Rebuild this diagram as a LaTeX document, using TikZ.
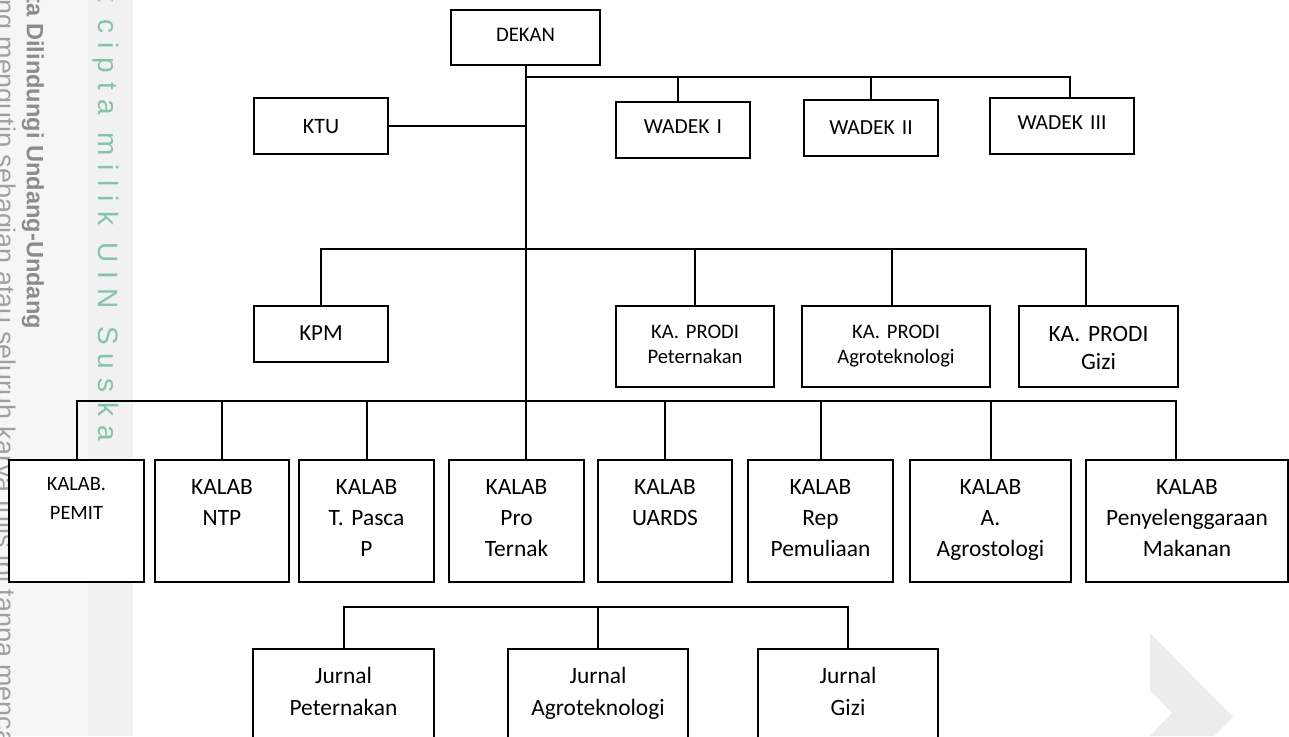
\documentclass[tikz,border=0pt]{standalone}
\usepackage{fontspec}
\setmainfont{Carlito}
\newfontfamily\wmfont{Liberation Sans}
\newfontfamily\wmspaced[LetterSpace=33]{Liberation Sans}
\usetikzlibrary{calc}

\definecolor{wmband}{RGB}{246,246,246}
\definecolor{wmbandb}{RGB}{241,241,241}
\definecolor{wmgreen}{RGB}{132,196,164}
\definecolor{wmgray}{RGB}{140,140,140}
\definecolor{wmlight}{RGB}{160,160,160}
\definecolor{wmarrow}{RGB}{236,236,236}

\newcommand{\unitfont}{\fontsize{21.5}{26}\selectfont}
\newcommand{\prodifont}{\fontsize{20.6}{25}\selectfont}
\newcommand{\kalabfont}{\fontsize{23.4}{31}\selectfont}

\tikzset{every picture/.style={line width=2pt}}
\tikzset{
  orgbox/.style={draw, fill=white, inner sep=0pt, align=center, anchor=north west},
  kalab/.style={orgbox, text height=34.5pt, text depth=87.5pt, font=\kalabfont},
  jurnal/.style={orgbox, text height=34.5pt, text depth=100pt, font=\fontsize{23.4}{32}\selectfont},
  prodi/.style={orgbox, text height=32pt, text depth=49pt, font=\prodifont},
  wmtext/.style={rotate=-90, anchor=base west, inner sep=0pt},
  link/.style={line width=2pt}
}

\begin{document}
\begin{tikzpicture}[x=1pt,y=1pt,yscale=-1,xscale=1]
	\useasboundingbox (0,0) rectangle (1289,736);
	\clip (0,0) rectangle (1289,736);

	%Shape: Watermark band
	\fill[wmband] (0,0) rectangle (88,736);
	\fill[wmbandb] (88,0) rectangle (133,736);
	% Text Node
	\node[wmtext, text=wmlight, font=\wmfont\fontsize{26.9}{30}\selectfont] (wmlaw) at (-4,-72) {Dilarang mengutip sebagian atau seluruh karya tulis ini tanpa mencantumkan dan menyebutkan sumber};
	% Text Node
	\node[wmtext, text=wmgray, font=\wmfont\bfseries\fontsize{23.6}{27}\selectfont] (wmcopy) at (27,-93) {Hak Cipta Dilindungi Undang-Undang};
	% Text Node
	\node[wmtext, text=wmgreen, font=\wmspaced\fontsize{28}{32}\selectfont] (wmuin) at (98,-67) {Hak cipta milik UIN Suska Riau};
	%Shape: Chevron
	\fill[wmarrow] (1150,633) -- (1233,717) -- (1214,736) -- (1150,736) -- (1172,713) -- (1150,690) -- cycle;

	% Text Node
	\node[orgbox, text width=149pt, text height=31pt, text depth=24pt, font=\fontsize{20.7}{25}\selectfont] (dekan) at (450,9) {DEKAN};
	% Text Node
	\node[orgbox, text width=134pt, text height=35pt, text depth=21pt, font=\fontsize{22}{26}\selectfont] (ktu) at (253,97) {KTU};
	% Text Node
	\node[orgbox, text width=134pt, text height=31pt, text depth=25pt, font=\unitfont] (w1) at (615,101) {WADEK I};
	% Text Node
	\node[orgbox, text width=134pt, text height=34pt, text depth=22pt, font=\unitfont] (w2) at (803,99) {WADEK II};
	% Text Node
	\node[orgbox, text width=144pt, text height=31pt, text depth=25pt, font=\unitfont] (w3) at (989,97) {WADEK III};

	% Text Node
	\node[orgbox, text width=134pt, text height=34pt, text depth=22pt, font=\fontsize{23}{27}\selectfont] (kpm) at (253,305) {KPM};
	% Text Node
	\node[prodi, text width=158pt] (kpp) at (615,305) {KA. PRODI\\Peternakan};
	% Text Node
	\node[prodi, text width=188pt] (kpa) at (801,305) {KA. PRODI\\Agroteknologi};
	% Text Node
	\node[prodi, text width=159pt, text height=35pt, text depth=46pt, font=\fontsize{23.4}{28}\selectfont] (kpg) at (1018,305) {KA. PRODI\\Gizi};

	% Text Node
	\node[kalab, text width=135pt, text height=30pt, text depth=92pt, font=\fontsize{20.4}{29}\selectfont] (pemit) at (8,459) {KALAB.\\PEMIT};
	\node[kalab, text width=134pt] (ntp) at (154,459) {KALAB\\NTP};
	\node[kalab, text width=135pt] (tpasca) at (298,459) {KALAB\\T. Pasca\\P};
	\node[kalab, text width=135pt] (prot) at (448,459) {KALAB\\Pro\\Ternak};
	\node[kalab, text width=134pt] (uards) at (597,459) {KALAB\\UARDS};
	\node[kalab, text width=145pt] (rep) at (747,459) {KALAB\\Rep\\Pemuliaan};
	\node[kalab, text width=161pt] (agro) at (909,459) {KALAB\\A.\\Agrostologi};
	\node[kalab, text width=202pt] (penyel) at (1085,459) {KALAB\\Penyelenggaraan\\Makanan};

	% Text Node
	\node[jurnal, text width=181pt] (jp) at (252,648) {Jurnal\\Peternakan};
	\node[jurnal, text width=180pt] (ja) at (507,648) {Jurnal\\Agroteknologi};
	\node[jurnal, text width=180pt] (jg) at (757,648) {Jurnal\\Gizi};

	\coordinate (wbus) at (524.5,77);
	\coordinate (pbus) at (524.5,249);
	\coordinate (kbus) at (524.5,401);
	\coordinate (jbus) at (597,607);
	\coordinate (w1top) at ($(w1.north)+(-5,0)$);
	\coordinate (w3top) at ($(w3.north)+(8,0)$);
	\coordinate (kpatop) at ($(kpa.north)+(-4,0)$);
	\coordinate (kpgtop) at ($(kpg.north)+(-13,0)$);
	\coordinate (penyeltop) at ($(penyel.north)+(-11,0)$);

	%Straight Lines
	\draw[link] (dekan.south) -- (dekan.south |- prot.north);
	\draw[link] (ktu.east) -- (ktu.east -| dekan.south);
	\draw[link] (wbus) -| (w3top);
	\draw[link] (w1top |- wbus) -- (w1top);
	\draw[link] (w2.north |- wbus) -- (w2.north);
	%Straight Lines
	\draw[link] (kpm.north) |- (kpgtop |- pbus) -- (kpgtop);
	\draw[link] (kpp.north |- pbus) -- (kpp.north);
	\draw[link] (kpatop |- pbus) -- (kpatop);
	%Straight Lines
	\draw[link] (pemit.north) |- (penyeltop |- kbus) -- (penyeltop);
	\foreach \n in {ntp,tpasca,uards,rep,agro}
		\draw[link] (\n.north |- kbus) -- (\n.north);
	%Straight Lines
	\draw[link] (jp.north) |- (jg.north |- jbus) -- (jg.north);
	\draw[link] (ja.north |- jbus) -- (ja.north);

\end{tikzpicture}
\end{document}
